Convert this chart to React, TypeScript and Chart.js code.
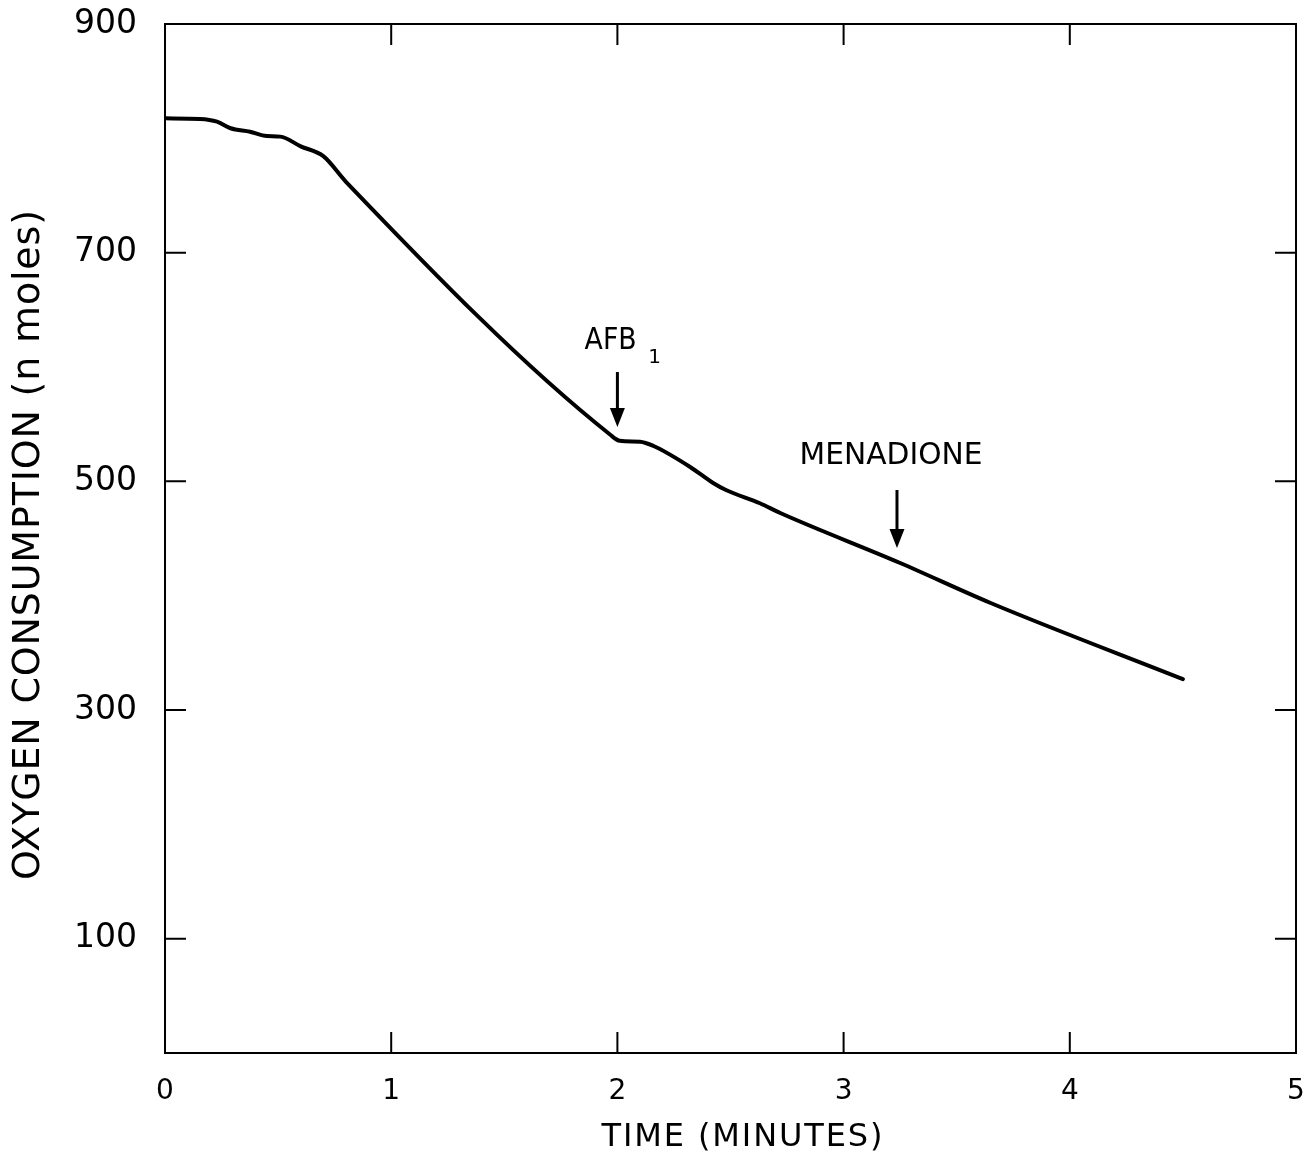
import { useEffect, useRef } from "react";
import { Chart, registerables } from "chart.js";

Chart.register(...registerables);

// Oxygen trace (time in minutes, oxygen in n moles)
const timeMinutes = [0, 0.155, 0.23, 0.29, 0.376, 0.45, 0.51, 0.6, 0.7, 0.8, 1.97, 2.01, 2.1, 2.16, 2.32, 2.425, 2.48, 2.63, 2.72, 3.25, 3.65, 4.5];
const oxygenNmol = [817.5, 817, 814.6, 808.8, 805.8, 802, 801.5, 793, 784.4, 762, 540.5, 535.5, 534.7, 530.9, 512.8, 498.3, 492.4, 480.8, 472.3, 428.6, 393.6, 327];

const xTicks = [0, 1, 2, 3, 4, 5];
const yTicks = [100, 300, 500, 700, 900];
const innerTickX = [1, 2, 3, 4];
const innerTickY = [100, 300, 500, 700];

// Additions marked with arrows
const addLabels = ["AFB", "MENADIONE"];
const addSubscripts = ["1", ""];
const addArrowTime = [2.0, 3.236];
const addArrowTop = [595.6, 492.4];
const addArrowTip = [547.5, 441.7];
const addLabelTime = [1.97, 3.21];
const addLabelValue = [622.7, 522.2];
const addLabelWidth = [52, 183];

const xTitle = "TIME (MINUTES)";
const yTitle = "OXYGEN CONSUMPTION (n moles)";

const FONT = '"DejaVu Sans", sans-serif';

function drawSpacedText(
  ctx: CanvasRenderingContext2D,
  text: string,
  cx: number,
  cy: number,
  size: number,
  width: number,
  rot = 0
) {
  ctx.save();
  ctx.translate(cx, cy);
  ctx.rotate(rot);
  ctx.font = `${size}px ${FONT}`;
  ctx.fillStyle = "#000";
  ctx.textBaseline = "middle";
  ctx.textAlign = "left";
  const natural = ctx.measureText(text).width;
  if (natural < width) {
    const ls = (width - natural) / Math.max(1, text.length - 1);
    (ctx as any).letterSpacing = `${ls}px`;
  } else {
    ctx.scale(width / natural, 1);
    width = natural;
  }
  ctx.fillText(text, -width / 2, 0);
  ctx.restore();
}

const framePlugin = {
  id: "frameAndNotes",
  afterDraw(chart: any) {
    const { ctx, chartArea, scales } = chart;
    const xs = scales.x;
    const ys = scales.y;
    const { left, right, top, bottom } = chartArea;
    ctx.save();
    ctx.strokeStyle = "#000";
    ctx.lineWidth = 2;
    ctx.strokeRect(left, top, right - left, bottom - top);

    const tl = 21;
    ctx.beginPath();
    innerTickX.forEach((v) => {
      const px = xs.getPixelForValue(v);
      ctx.moveTo(px, bottom);
      ctx.lineTo(px, bottom - tl);
      ctx.moveTo(px, top);
      ctx.lineTo(px, top + tl);
    });
    innerTickY.forEach((v) => {
      const py = ys.getPixelForValue(v);
      ctx.moveTo(left, py);
      ctx.lineTo(left + tl, py);
      ctx.moveTo(right, py);
      ctx.lineTo(right - tl, py);
    });
    ctx.stroke();

    // arrows and their labels
    ctx.fillStyle = "#000";
    addLabels.forEach((label, i) => {
      const ax = xs.getPixelForValue(addArrowTime[i]);
      const y0 = ys.getPixelForValue(addArrowTop[i]);
      const y1 = ys.getPixelForValue(addArrowTip[i]);
      const headLen = 19;
      const headHalf = 7.5;
      ctx.lineWidth = 3;
      ctx.beginPath();
      ctx.moveTo(ax, y0);
      ctx.lineTo(ax, y1 - headLen + 2);
      ctx.stroke();
      ctx.beginPath();
      ctx.moveTo(ax - headHalf, y1 - headLen);
      ctx.lineTo(ax + headHalf, y1 - headLen);
      ctx.lineTo(ax, y1);
      ctx.closePath();
      ctx.fill();

      const lx = xs.getPixelForValue(addLabelTime[i]);
      const ly = ys.getPixelForValue(addLabelValue[i]);
      drawSpacedText(ctx, label, lx, ly, 30, addLabelWidth[i]);
      if (addSubscripts[i]) {
        ctx.font = `20px ${FONT}`;
        ctx.textAlign = "center";
        ctx.textBaseline = "middle";
        ctx.fillText(addSubscripts[i], lx + addLabelWidth[i] / 2 + 18, ly + 17);
      }
    });

    // axis titles
    drawSpacedText(ctx, xTitle, 742, 1138, 32, 281);
    drawSpacedText(ctx, yTitle, 29, 545, 38, 670, -Math.PI / 2);
    ctx.restore();
  },
};

export default function App() {
  const ref = useRef<HTMLCanvasElement | null>(null);

  useEffect(() => {
    if (!ref.current) return;
    const chart = new Chart(ref.current, {
      type: "line",
      data: {
        datasets: [
          {
            data: timeMinutes.map((t, i) => ({ x: t, y: oxygenNmol[i] })),
            borderColor: "#000",
            borderWidth: 4,
            pointRadius: 0,
            cubicInterpolationMode: "monotone",
            borderJoinStyle: "round",
            borderCapStyle: "round",
            fill: false,
          },
        ],
      },
      options: {
        animation: false,
        responsive: false,
        devicePixelRatio: 1,
        layout: { padding: { top: 24, right: 15, left: 0, bottom: 0 } },
        plugins: { legend: { display: false }, tooltip: { enabled: false } },
        scales: {
          x: {
            type: "linear",
            min: 0,
            max: 5,
            afterBuildTicks: (s: any) => {
              s.ticks = xTicks.map((v) => ({ value: v }));
            },
            afterFit: (s: any) => {
              s.height = 1161 - 1053;
              s.paddingLeft = 0;
              s.paddingRight = 0;
            },
            grid: { display: false, drawTicks: false },
            border: { display: false },
            ticks: {
              color: "#000",
              font: { family: FONT, size: 28 },
              padding: 22,
              maxRotation: 0,
              callback: (v: any) => String(v),
            },
          },
          y: {
            type: "linear",
            min: 0,
            max: 900,
            afterBuildTicks: (s: any) => {
              s.ticks = yTicks.map((v) => ({ value: v }));
            },
            afterFit: (s: any) => {
              s.width = 165;
              s.paddingTop = 0;
              s.paddingBottom = 0;
            },
            grid: { display: false, drawTicks: false },
            border: { display: false },
            ticks: {
              color: "#000",
              font: { family: FONT, size: 33 },
              padding: 28,
              callback: (v: any) => String(v),
            },
          },
        },
      },
      plugins: [framePlugin],
    });
    return () => chart.destroy();
  }, []);

  return (
    <div style={{ position: "fixed", left: 0, top: 0, width: 1311, height: 1161, background: "#fff" }}>
      <canvas ref={ref} width={1311} height={1161} style={{ display: "block", width: 1311, height: 1161 }} />
    </div>
  );
}
